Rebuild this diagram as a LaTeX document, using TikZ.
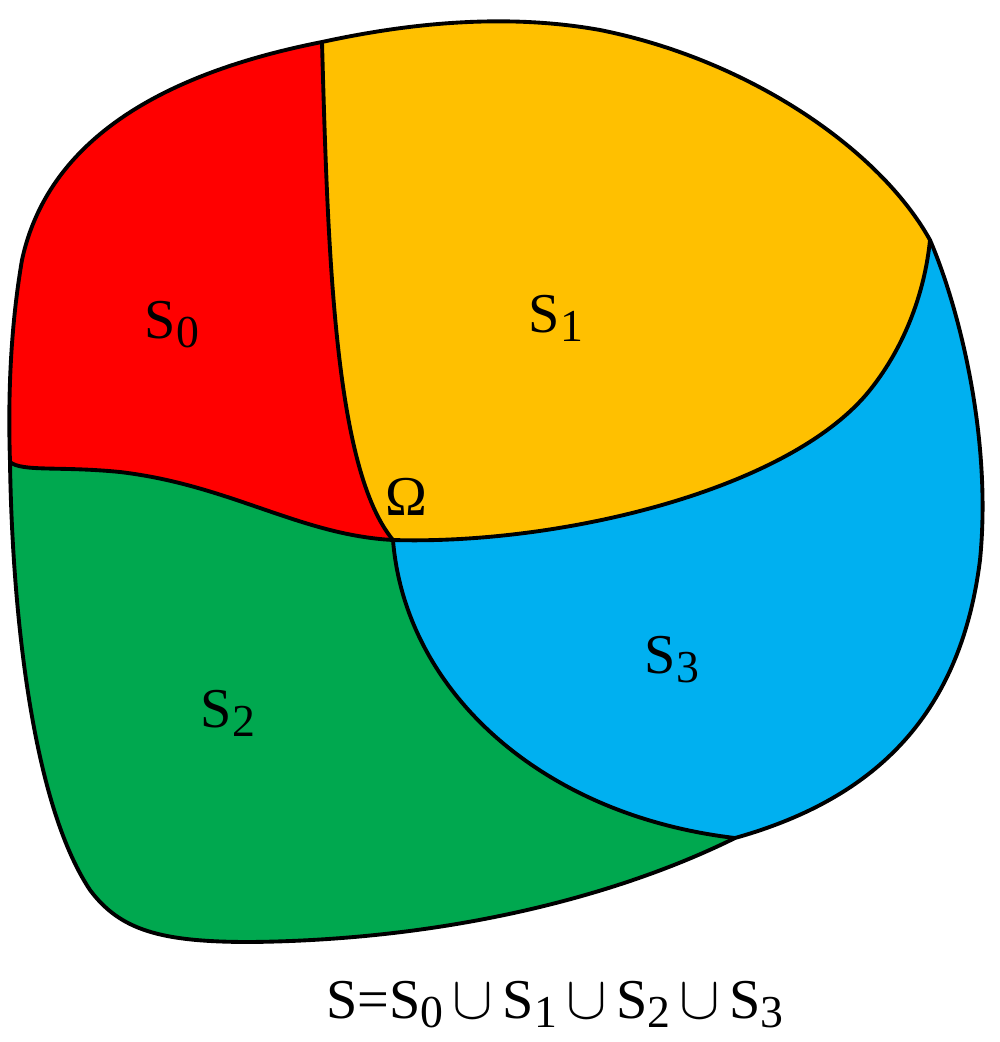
\documentclass[tikz,border=0pt]{standalone}
\usepackage{fontspec}
\setmainfont{Liberation Serif}
\definecolor{cred}{HTML}{FF0000}
\definecolor{cyel}{HTML}{FFC000}
\definecolor{cgrn}{HTML}{00A84F}
\definecolor{cblu}{HTML}{00B0F0}
\newcommand{\sub}[1]{\raisebox{-0.35ex}{\fontsize{13pt}{14pt}\selectfont #1}}
\newcommand{\uni}{\,$\cup$\,}
\begin{document}
\begin{tikzpicture}[x=0.01cm,y=-0.01cm,
  bound/.style={line width=1.1pt,line join=round,line cap=round},
  lbl/.style={font=\fontsize{16pt}{18pt}\selectfont,inner sep=0pt}]
\useasboundingbox (0,0) rectangle (1000,1042);
\coordinate (A) at (322,42);
\coordinate (O) at (393,540);
\coordinate (L) at (10,462);
\coordinate (R) at (930,240);
\coordinate (B) at (735,838);
% S0 red
\fill[cred] (A) .. controls (180,70) and (50,130) .. (22,260) .. controls (10,330) and (8,400) .. (L)
  .. controls (22,472) and (60,466) .. (120,472) .. controls (230,485) and (300,535) .. (O)
  .. controls (335,470) and (328,260) .. (A) -- cycle;
% S1 yellow
\fill[cyel] (A) .. controls (328,260) and (335,470) .. (O)
  .. controls (560,545) and (790,490) .. (870,390) .. controls (906,345) and (925,290) .. (R)
  .. controls (880,150) and (750,60) .. (600,30) .. controls (500,12) and (400,25) .. (A) -- cycle;
% S2 green
\fill[cgrn] (L) .. controls (12,600) and (30,800) .. (90,890) .. controls (120,930) and (160,942) .. (250,942)
  .. controls (450,940) and (620,895) .. (B)
  .. controls (540,815) and (405,690) .. (O)
  .. controls (300,535) and (230,485) .. (120,472) .. controls (60,466) and (22,472) .. (L) -- cycle;
% S3 blue
\fill[cblu] (O) .. controls (405,690) and (540,815) .. (B)
  .. controls (870,800) and (960,720) .. (980,560) .. controls (992,440) and (960,310) .. (R)
  .. controls (925,290) and (906,345) .. (870,390) .. controls (790,490) and (560,545) .. (O) -- cycle;
% outline
\draw[bound] (A) .. controls (180,70) and (50,130) .. (22,260) .. controls (10,330) and (8,400) .. (L)
  .. controls (12,600) and (30,800) .. (90,890) .. controls (120,930) and (160,942) .. (250,942)
  .. controls (450,940) and (620,895) .. (B)
  .. controls (870,800) and (960,720) .. (980,560) .. controls (992,440) and (960,310) .. (R)
  .. controls (880,150) and (750,60) .. (600,30) .. controls (500,12) and (400,25) .. (A) -- cycle;
% inner boundaries
\draw[bound] (A) .. controls (328,260) and (335,470) .. (O);
\draw[bound] (L) .. controls (22,472) and (60,466) .. (120,472) .. controls (230,485) and (300,535) .. (O);
\draw[bound] (O) .. controls (560,545) and (790,490) .. (870,390) .. controls (906,345) and (925,290) .. (R);
\draw[bound] (O) .. controls (405,690) and (540,815) .. (B);
% labels
\node[lbl] (s0) at (172,325) {S\sub{0}};
\node[lbl] (s1) at (556,318) {S\sub{1}};
\node[lbl] (s2) at (228,713) {S\sub{2}};
\node[lbl] (s3) at (672,660) {S\sub{3}};
\node[lbl] (om) at (406,497) {Ω};
\node[font=\fontsize{16pt}{18pt}\selectfont,inner sep=0pt] (eq) at (555,1005)
  {S=S\sub{0}\uni S\sub{1}\uni S\sub{2}\uni S\sub{3}};
\end{tikzpicture}
\end{document}
